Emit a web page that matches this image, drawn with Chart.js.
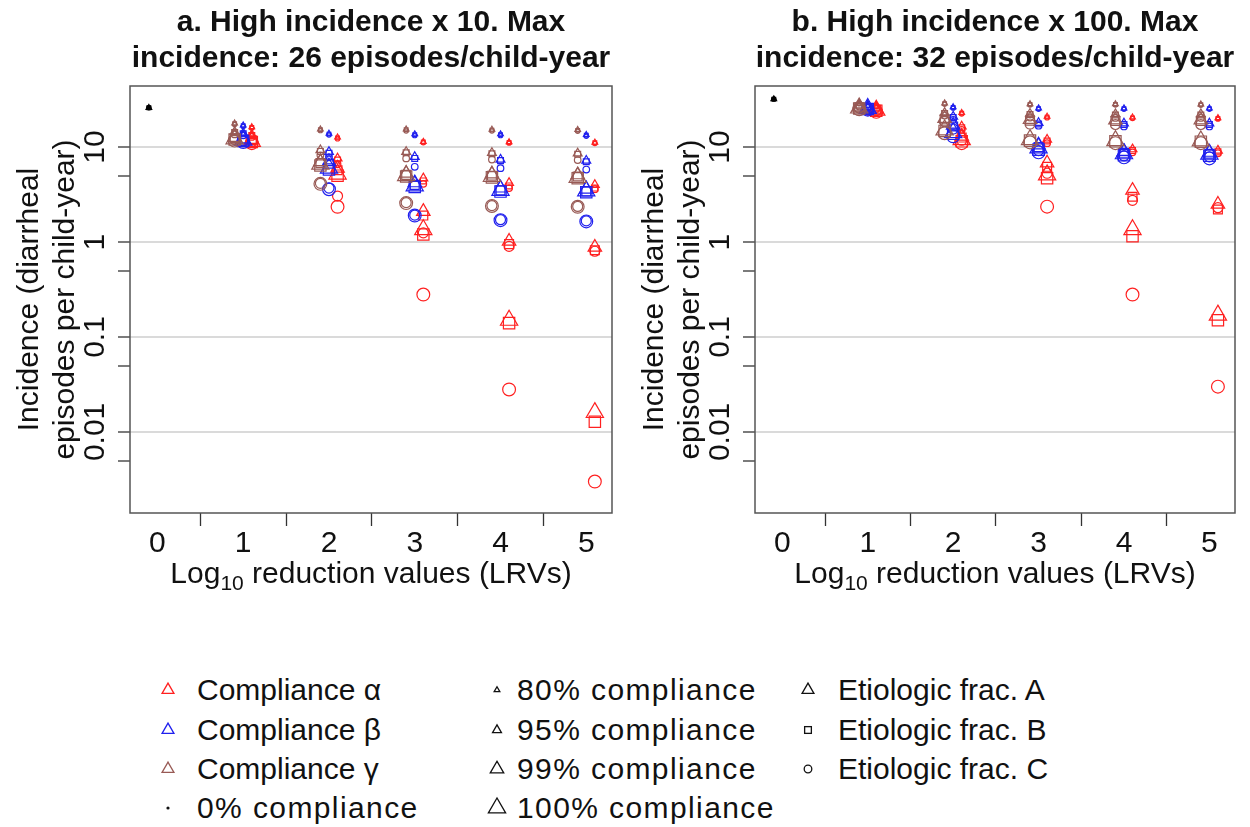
<!DOCTYPE html>
<html>
<head>
<meta charset="utf-8">
<script src="https://cdn.jsdelivr.net/npm/chart.js@4.4.1/dist/chart.umd.min.js"></script>
<style>
  body { margin: 0; background: #fff; width: 1250px; height: 827px; position: relative; overflow: hidden;
         font-family: "Liberation Sans", Arial, sans-serif; color: #111; }
  canvas { position: absolute; top: 0; }
  #panelA { left: 0; }
  #panelB { left: 625px; }
  .key { position: absolute; font-size: 30px; line-height: 40px; white-space: nowrap; }
  .key.pct { letter-spacing: 1.4px; }
  .sym { position: absolute; overflow: visible; }
</style>
</head>
<body>
<canvas id="panelA" width="625" height="600"></canvas>
<canvas id="panelB" width="625" height="600"></canvas>
<div id="legend"></div>
<script>
const lrv = [1, 2, 3, 4, 5];
const complianceLevels = ['80%', '95%', '99%', '100%'];
const yTicks = [0.005, 0.01, 0.05, 0.1, 0.5, 1, 5, 10];
const yLabelled = [0.01, 0.1, 1, 10];
const xTicks = [0, 0.5, 1, 1.5, 2, 2.5, 3, 3.5, 4, 4.5, 5];

// a. high incidence x 10 -- rows are 80/95/99/100% compliance, columns LRV 1..5
const aMax = 26;
const aAlphaTri = [
  [16.3, 12.7, 11.4, 11.3, 11.2],
  [13.5, 7.6, 4.7, 4.2, 4.0],
  [12.0, 6.0, 2.1, 1.02, 0.88],
  [11.5, 5.2, 1.35, 0.15, 0.016]
];
const aAlphaSq = [
  [16.1, 12.5, 11.3, 11.2, 11.1],
  [13.2, 7.3, 4.4, 3.9, 3.7],
  [11.8, 5.7, 1.9, 0.95, 0.82],
  [11.3, 5.0, 1.2, 0.14, 0.0128]
];
const aAlphaCirc = [
  [15.8, 12.2, 11.1, 11.0, 10.9],
  [12.8, 6.6, 4.1, 3.7, 3.6],
  [11.4, 3.05, 1.25, 0.9, 0.8],
  [11.0, 2.35, 0.28, 0.028, 0.003]
];
const aBetaTri = [
  [17.0, 13.9, 13.7, 13.7, 13.5],
  [14.0, 8.9, 7.9, 7.4, 7.2],
  [12.2, 7.0, 4.2, 3.7, 3.6],
  [11.8, 6.0, 3.9, 3.5, 3.45]
];
const aBetaSq = [
  [16.8, 13.7, 13.5, 13.5, 13.3],
  [13.8, 8.6, 7.6, 7.2, 7.0],
  [12.0, 6.7, 4.0, 3.5, 3.4],
  [11.6, 5.8, 3.8, 3.4, 3.35]
];
const aBetaCirc = [
  [16.5, 13.4, 13.2, 13.2, 13.0],
  [13.3, 7.8, 6.2, 6.0, 5.8],
  [11.6, 3.7, 1.92, 1.72, 1.67],
  [11.3, 3.6, 1.9, 1.7, 1.65]
];
const aGammaTri = [
  [17.8, 15.4, 15.4, 15.3, 15.2],
  [14.5, 9.3, 8.9, 8.7, 8.6],
  [12.6, 7.0, 5.3, 5.2, 5.1],
  [12.2, 6.6, 5.0, 4.9, 4.8]
];
const aGammaSq = [
  [17.6, 15.2, 15.2, 15.1, 15.0],
  [14.2, 9.0, 8.7, 8.5, 8.4],
  [12.4, 6.8, 5.1, 5.0, 4.9],
  [12.0, 6.4, 4.9, 4.8, 4.7]
];
const aGammaCirc = [
  [17.3, 14.9, 14.8, 14.8, 14.7],
  [13.6, 8.2, 7.6, 7.4, 7.3],
  [12.0, 4.15, 2.6, 2.42, 2.37],
  [11.7, 4.1, 2.57, 2.4, 2.35]
];

// b. high incidence x 100
const bMax = 32;
const bAlphaTri = [
  [27.0, 23.0, 21.0, 20.6, 20.3],
  [26.0, 16.5, 12.0, 9.5, 9.2],
  [25.0, 13.0, 6.8, 3.5, 2.5],
  [24.5, 12.0, 5.1, 1.35, 0.17]
];
const bAlphaSq = [
  [26.8, 22.7, 20.7, 20.3, 20.0],
  [25.7, 16.0, 11.6, 9.2, 8.9],
  [24.7, 12.6, 6.2, 3.0, 2.2],
  [24.2, 11.5, 4.7, 1.15, 0.15]
];
const bAlphaCirc = [
  [26.5, 22.3, 20.3, 20.0, 19.7],
  [25.2, 15.2, 11.0, 8.8, 8.6],
  [24.2, 11.8, 5.3, 2.75, 2.3],
  [23.5, 11.0, 2.36, 0.28, 0.03]
];
const bBetaTri = [
  [27.5, 26.4, 25.7, 25.7, 25.7],
  [26.5, 21.0, 18.0, 17.8, 17.8],
  [25.8, 17.0, 10.5, 9.0, 8.8],
  [25.5, 14.2, 9.8, 8.5, 8.4]
];
const bBetaSq = [
  [27.3, 26.1, 25.4, 25.4, 25.4],
  [26.2, 20.5, 17.5, 17.3, 17.3],
  [25.5, 16.5, 10.0, 8.7, 8.5],
  [25.2, 13.8, 9.4, 8.2, 8.1]
];
const bBetaCirc = [
  [27.0, 25.7, 25.0, 25.0, 25.0],
  [25.8, 19.3, 16.8, 16.5, 16.5],
  [25.0, 15.5, 9.2, 8.1, 7.9],
  [24.8, 13.0, 8.8, 7.8, 7.6]
];
const bGammaTri = [
  [29.0, 29.0, 28.4, 28.4, 28.3],
  [27.5, 23.0, 22.5, 22.3, 22.3],
  [26.5, 20.0, 19.5, 19.3, 19.3],
  [25.8, 15.2, 12.0, 11.7, 11.6]
];
const bGammaSq = [
  [28.8, 28.7, 28.1, 28.1, 28.0],
  [27.2, 22.6, 22.0, 21.8, 21.8],
  [26.2, 19.6, 19.0, 18.8, 18.8],
  [25.5, 14.8, 11.7, 11.5, 11.4]
];
const bGammaCirc = [
  [28.5, 28.3, 27.7, 27.7, 27.6],
  [26.8, 21.5, 20.5, 20.3, 20.3],
  [25.8, 18.5, 17.5, 17.3, 17.3],
  [25.0, 14.0, 11.2, 11.0, 11.0]
];

const FONT = '"Liberation Sans", Arial, sans-serif';
const colours = { alpha: '#ff2020', beta: '#2020ee', gamma: '#985a55' };
const xShift = { alpha: 0.1, beta: 0, gamma: -0.1 };
// circle radius per compliance level; other shapes scaled like R's pch 0/2
const markerSize = [2.1, 3.3, 5.0, 6.4];
const shapeScale = { triangle: 1.555, rect: 1.253, circle: 1 };

function seriesSets(key, shape, rows) {
  return rows.map((row, i) => ({
    label: key + ' ' + complianceLevels[i] + ' ' + shape,
    data: row.map((v, j) => ({ x: lrv[j] + xShift[key], y: v })),
    pointStyle: shape,
    pointRadius: markerSize[i] * shapeScale[shape],
    borderColor: colours[key],
    backgroundColor: 'rgba(0,0,0,0)',
    borderWidth: 1.2,
    showLine: false
  }));
}

const panelText = {
  id: 'panelText',
  afterDraw(chart, args, opts) {
    const { ctx, chartArea: a } = chart;
    const cx = (a.left + a.right) / 2;
    ctx.save();
    ctx.strokeStyle = '#555';
    ctx.lineWidth = 1.5;
    ctx.strokeRect(a.left, a.top, a.right - a.left, a.bottom - a.top);

    ctx.fillStyle = '#111';
    ctx.textAlign = 'center';
    ctx.textBaseline = 'alphabetic';
    ctx.font = 'bold 30px ' + FONT;
    ctx.fillText(opts.title[0], cx, 31);
    ctx.fillText(opts.title[1], cx, 67);

    // x axis title with subscript
    ctx.font = '30px ' + FONT;
    const p1 = 'Log', p3 = ' reduction values (LRVs)';
    const w1 = ctx.measureText(p1).width, w3 = ctx.measureText(p3).width;
    ctx.font = '21px ' + FONT;
    const w2 = ctx.measureText('10').width;
    let x0 = cx - (w1 + w2 + w3) / 2;
    ctx.textAlign = 'left';
    ctx.font = '30px ' + FONT;
    ctx.fillText(p1, x0, 583);
    ctx.font = '21px ' + FONT;
    ctx.fillText('10', x0 + w1, 590);
    ctx.font = '30px ' + FONT;
    ctx.fillText(p3, x0 + w1 + w2, 583);

    // y axis title, two lines
    const cy = (a.top + a.bottom) / 2;
    ctx.translate(0, cy);
    ctx.rotate(-Math.PI / 2);
    ctx.textAlign = 'center';
    ctx.fillText('Incidence (diarrheal', 0, 38);
    ctx.fillText('episodes per child-year)', 0, 74);
    ctx.restore();
  }
};

function buildPanel(id, title, maxInc, sets, rightPad) {
  const datasets = ['triangle', 'rect', 'circle'].map(shape => ({
    label: '0% ' + shape,
    data: [{ x: -0.1, y: maxInc }],
    pointStyle: shape,
    pointRadius: markerSize[0] * shapeScale[shape],
    borderColor: '#000',
    backgroundColor: '#000',
    borderWidth: 1.2
  }));
  sets.forEach(s => datasets.push(...seriesSets(s[0], s[1], s[2])));

  new Chart(document.getElementById(id), {
    type: 'scatter',
    data: { datasets },
    options: {
      responsive: false,
      animation: false,
      layout: { autoPadding: false, padding: { top: 86, left: 0, right: rightPad, bottom: 27 } },
      plugins: { legend: { display: false }, tooltip: { enabled: false }, panelText: { title } },
      scales: {
        x: {
          type: 'linear', min: -0.32, max: 5.3,
          afterBuildTicks: sc => { sc.ticks = xTicks.map(v => ({ value: v })); },
          afterFit: sc => { sc.height = 60; },
          ticks: {
            autoSkip: false, maxRotation: 0, padding: 0, color: '#111',
            font: { size: 30, family: FONT },
            callback: v => Number.isInteger(v) ? String(v) : ''
          },
          grid: {
            drawOnChartArea: false, tickLength: 13, tickWidth: 1.3,
            tickColor: c => (c.tick && c.tick.value % 1 !== 0) ? '#333' : 'rgba(0,0,0,0)'
          },
          border: { display: false }
        },
        y: {
          type: 'logarithmic', min: 0.0014, max: 44,
          afterBuildTicks: sc => { sc.ticks = yTicks.map(v => ({ value: v })); },
          afterFit: sc => { sc.width = 130; },
          ticks: {
            autoSkip: false, minRotation: 90, maxRotation: 90, crossAlign: 'center', padding: -7,
            color: '#111', font: { size: 30, family: FONT },
            callback: v => yLabelled.includes(v) ? String(v) : ''
          },
          grid: {
            lineWidth: 2, tickLength: 12, tickWidth: 1.3, tickColor: '#333',
            color: c => (c.tick && yLabelled.includes(c.tick.value)) ? '#dadada' : 'rgba(0,0,0,0)'
          },
          border: { display: false }
        }
      }
    },
    plugins: [panelText]
  });
}

buildPanel('panelA', ['a. High incidence x 10. Max', 'incidence: 26 episodes/child-year'], aMax, [
  ['gamma', 'triangle', aGammaTri], ['gamma', 'rect', aGammaSq], ['gamma', 'circle', aGammaCirc],
  ['beta', 'triangle', aBetaTri], ['beta', 'rect', aBetaSq], ['beta', 'circle', aBetaCirc],
  ['alpha', 'triangle', aAlphaTri], ['alpha', 'rect', aAlphaSq], ['alpha', 'circle', aAlphaCirc]
], 13);

buildPanel('panelB', ['b. High incidence x 100. Max', 'incidence: 32 episodes/child-year'], bMax, [
  ['gamma', 'triangle', bGammaTri], ['gamma', 'rect', bGammaSq], ['gamma', 'circle', bGammaCirc],
  ['beta', 'triangle', bBetaTri], ['beta', 'rect', bBetaSq], ['beta', 'circle', bBetaCirc],
  ['alpha', 'triangle', bAlphaTri], ['alpha', 'rect', bAlphaSq], ['alpha', 'circle', bAlphaCirc]
], 15);

// legend: three columns of keys under the panels
const legendRows = [690, 730, 769, 808];
const legendCols = [
  { sx: 168, tx: 197, items: [
    ['triangle', 4.4, colours.alpha, 'Compliance α'],
    ['triangle', 4.4, colours.beta, 'Compliance β'],
    ['triangle', 4.4, colours.gamma, 'Compliance γ'],
    ['dot', 1.6, '#111', '0% compliance']] },
  { sx: 497, tx: 517, items: [
    ['triangle', markerSize[0], '#111', '80% compliance'],
    ['triangle', markerSize[1], '#111', '95% compliance'],
    ['triangle', markerSize[2], '#111', '99% compliance'],
    ['triangle', markerSize[3], '#111', '100% compliance']] },
  { sx: 808, tx: 838, items: [
    ['triangle', 4.4, '#111', 'Etiologic frac. A'],
    ['square', 3.8, '#111', 'Etiologic frac. B'],
    ['circle', 3.8, '#111', 'Etiologic frac. C']] }
];

function symbolSvg(kind, r, colour) {
  let shape;
  if (kind === 'triangle') {
    const t = 1.555 * r, h = 1.347 * r, b = 0.777 * r;
    shape = `<polygon points="${20 - h},${20 + b} ${20 + h},${20 + b} 20,${20 - t}" fill="none" stroke="${colour}" stroke-width="1.3"/>`;
  } else if (kind === 'square') {
    const s = 0.886 * r;
    shape = `<rect x="${20 - s}" y="${20 - s}" width="${2 * s}" height="${2 * s}" fill="none" stroke="${colour}" stroke-width="1.3"/>`;
  } else if (kind === 'circle') {
    shape = `<circle cx="20" cy="20" r="${r}" fill="none" stroke="${colour}" stroke-width="1.3"/>`;
  } else {
    shape = `<circle cx="20" cy="20" r="${r}" fill="${colour}"/>`;
  }
  return `<svg width="40" height="40" viewBox="0 0 40 40">${shape}</svg>`;
}

const legend = document.getElementById('legend');
legendCols.forEach(col => {
  col.items.forEach((it, i) => {
    const y = legendRows[i];
    const sym = document.createElement('div');
    sym.className = 'sym';
    sym.style.left = (col.sx - 20) + 'px';
    sym.style.top = (y - 20) + 'px';
    sym.innerHTML = symbolSvg(it[0], it[1], it[2]);
    legend.appendChild(sym);
    const txt = document.createElement('div');
    txt.className = it[3].includes('%') ? 'key pct' : 'key';
    txt.style.left = col.tx + 'px';
    txt.style.top = (y - 20) + 'px';
    txt.textContent = it[3];
    legend.appendChild(txt);
  });
});
</script>
</body>
</html>
